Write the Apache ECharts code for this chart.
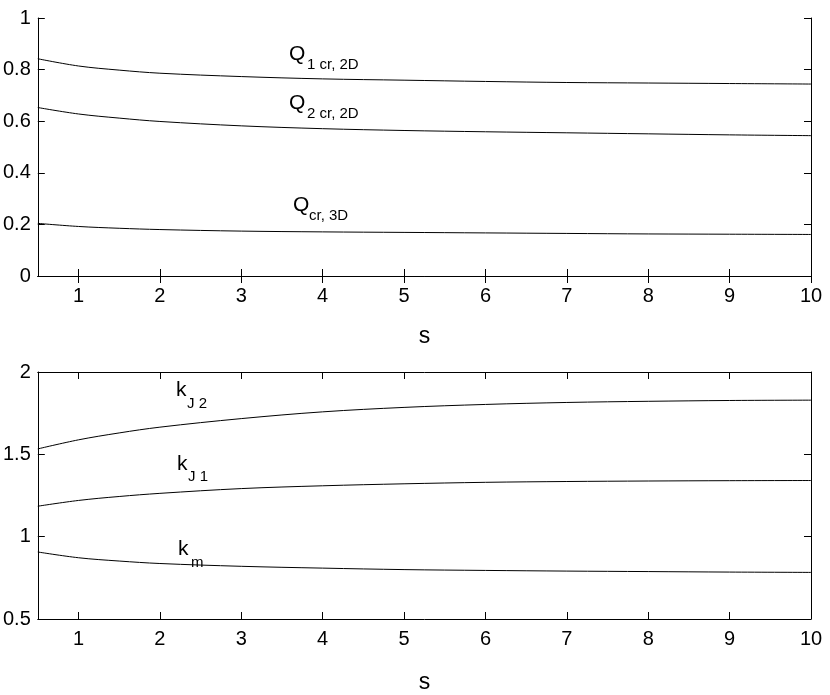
<!DOCTYPE html>
<html><head><meta charset="utf-8">
<script src="https://cdn.jsdelivr.net/npm/echarts@6/dist/echarts.min.js"></script>
<style>html,body{margin:0;padding:0;background:#fff}#c{width:830px;height:695px}</style>
</head><body><div id="c"></div>
<script>
const sValues = [0.5, 1, 1.5, 2, 3, 4, 5, 6, 7, 8, 9, 10];
const q1cr2D = [0.842, 0.814, 0.798, 0.786, 0.773, 0.764, 0.759, 0.754, 0.750, 0.748, 0.746, 0.744];
const q2cr2D = [0.653, 0.628, 0.612, 0.599, 0.582, 0.571, 0.564, 0.559, 0.555, 0.551, 0.547, 0.544];
const qcr3D  = [0.204, 0.192, 0.185, 0.180, 0.174, 0.171, 0.169, 0.167, 0.165, 0.163, 0.162, 0.161];
const kJ2 = [1.533, 1.588, 1.630, 1.665, 1.717, 1.758, 1.785, 1.803, 1.815, 1.822, 1.827, 1.829];
const kJ1 = [1.185, 1.220, 1.244, 1.263, 1.292, 1.309, 1.321, 1.330, 1.335, 1.338, 1.340, 1.341];
const km  = [0.907, 0.872, 0.852, 0.837, 0.820, 0.809, 0.800, 0.795, 0.791, 0.788, 0.785, 0.783];
const xTicks = [1, 2, 3, 4, 5, 6, 7, 8, 9, 10];

const FONT = '"Liberation Sans", Arial, Helvetica, sans-serif';
const pairs = ys => sValues.map((x, i) => [x, ys[i]]);
const axLine = {show: true, lineStyle: {color: '#000', width: 1}};
const tick = {show: true, inside: true, length: 7, lineStyle: {color: '#000', width: 1}};

function xAx(gi, showLabel, pos) {
  return {
    type: 'value', gridIndex: gi, min: 0.5, max: 10, position: pos,
    axisLine: axLine,
    axisTick: Object.assign({customValues: xTicks}, tick),
    axisLabel: {show: showLabel, customValues: xTicks, color: '#000', fontSize: 20, fontFamily: FONT, margin: 10,
      formatter: v => String(v)},
    splitLine: {show: false},
    name: showLabel ? 's' : '', nameLocation: 'middle', nameGap: showLabel ? (gi === 0 ? 49 : 52) : 0,
    nameTextStyle: {color: '#000', fontSize: 23, fontFamily: FONT}
  };
}
function yAx(gi, min, max, interval, showLabel, pos) {
  return {
    type: 'value', gridIndex: gi, min, max, interval, position: pos,
    axisLine: axLine, axisTick: tick,
    axisLabel: {show: showLabel, color: '#000', fontSize: 20, fontFamily: FONT, margin: 7,
      formatter: v => String(+v.toFixed(2))},
    splitLine: {show: false}
  };
}
const lineSeries = (data, xi, yi) => ({
  type: 'line', data: pairs(data), xAxisIndex: xi, yAxisIndex: yi, smooth: 0.35,
  showSymbol: false, symbol: 'none', lineStyle: {color: '#000', width: 1}, silent: true, animation: false
});

function txt(x, y, s, size) {
  return {type: 'text', left: x, top: y - size / 2, silent: true,
    style: {text: s, fill: '#000', font: size + 'px ' + FONT}};
}

const chart = echarts.init(document.getElementById('c'));
chart.setOption({
  animation: false,
  backgroundColor: '#fff',
  grid: [
    {left: 35, right: 19, top: 18, height: 258},
    {left: 35, right: 19, top: 372, height: 259}
  ],
  xAxis: [xAx(0, true, 'bottom'), xAx(0, false, 'top'), xAx(1, true, 'bottom'), xAx(1, false, 'top')],
  yAxis: [yAx(0, 0, 1, 0.2, true, 'left'), yAx(0, 0, 1, 0.2, false, 'right'),
          yAx(1, 0.5, 2, 0.5, true, 'left'), yAx(1, 0.5, 2, 0.5, false, 'right')],
  series: [
    lineSeries(q1cr2D, 0, 0), lineSeries(q2cr2D, 0, 0), lineSeries(qcr3D, 0, 0),
    lineSeries(kJ2, 2, 2), lineSeries(kJ1, 2, 2), lineSeries(km, 2, 2)
  ],
  graphic: [
    txt(289, 54, 'Q', 21), txt(307, 65, '1 cr, 2D', 15),
    txt(289, 103, 'Q', 21), txt(307, 114, '2 cr, 2D', 15),
    txt(293, 205, 'Q', 21), txt(309, 216, 'cr, 3D', 15),
    txt(176, 390, 'k', 21), txt(187, 404, 'J 2', 15),
    txt(177, 464, 'k', 21), txt(188, 477, 'J 1', 15),
    txt(178, 549, 'k', 21), txt(191, 563, 'm', 15)
  ]
});
</script></body></html>
